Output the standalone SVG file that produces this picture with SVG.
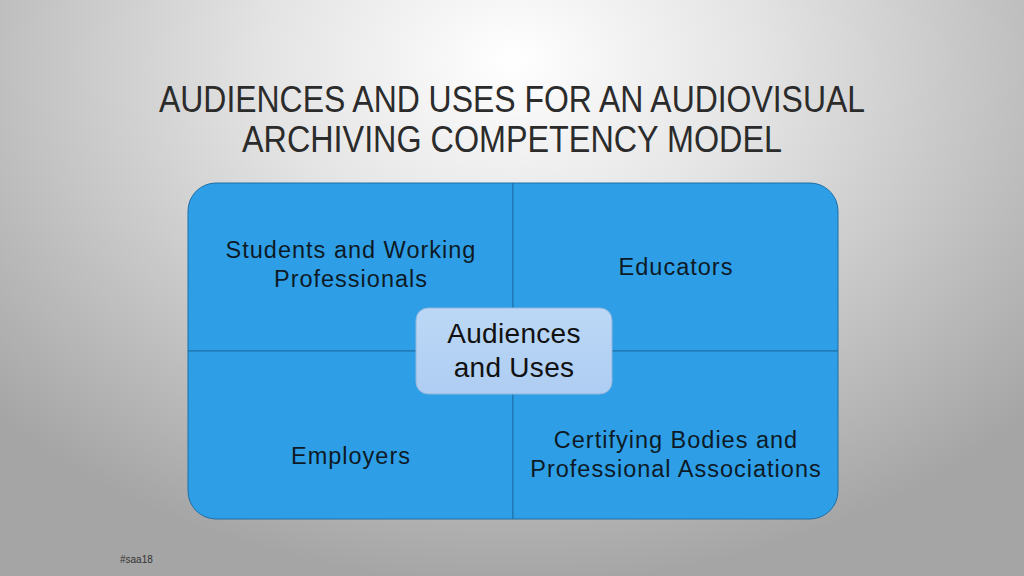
<svg xmlns="http://www.w3.org/2000/svg" width="1024" height="576" viewBox="0 0 1024 576">
<defs>
<radialGradient id="bg" cx="512" cy="60" r="700" gradientUnits="userSpaceOnUse" gradientTransform="translate(512 60) scale(1 0.75) translate(-512 -60)">
<stop offset="0" stop-color="#ffffff"/>
<stop offset="0.35" stop-color="#e4e4e4"/>
<stop offset="1" stop-color="#a5a5a5"/>
</radialGradient>
<linearGradient id="center" x1="0" y1="0" x2="0" y2="1">
<stop offset="0" stop-color="#bcd8f6"/>
<stop offset="1" stop-color="#aecdf2"/>
</linearGradient>
</defs>
<style>
.q{fill:#2e9fe6;stroke:#1d6ea6;stroke-width:1}
.lbl{font-family:"Liberation Sans",Arial,sans-serif;font-size:23.5px;letter-spacing:1px;fill:#0d1a26;text-anchor:middle}
.title{font-family:"Liberation Sans",Arial,sans-serif;font-size:36px;fill:#2b2b2b;text-anchor:middle}
.ctr{font-family:"Liberation Sans",Arial,sans-serif;font-size:28px;letter-spacing:0.3px;fill:#111111;text-anchor:middle}
</style>
<rect x="0" y="0" width="1024" height="576" fill="url(#bg)"/>
<g id="title">
<text class="title" x="512" y="112" textLength="706" lengthAdjust="spacingAndGlyphs">AUDIENCES AND USES FOR AN AUDIOVISUAL</text>
<text class="title" x="512" y="152" textLength="540" lengthAdjust="spacingAndGlyphs">ARCHIVING COMPETENCY MODEL</text>
</g>
<g id="students">
<path class="q" d="M188,211 A28,28 0 0 1 216,183 L513,183 L513,351 L188,351 Z"/>
<text class="lbl" x="351" y="258">Students and Working</text>
<text class="lbl" x="351" y="287">Professionals</text>
</g>
<g id="educators">
<path class="q" d="M513,183 L810,183 A28,28 0 0 1 838,211 L838,351 L513,351 Z"/>
<text class="lbl" x="676" y="275">Educators</text>
</g>
<g id="employers">
<path class="q" d="M188,351 L513,351 L513,519 L216,519 A28,28 0 0 1 188,491 Z"/>
<text class="lbl" x="351" y="464">Employers</text>
</g>
<g id="certifying">
<path class="q" d="M513,351 L838,351 L838,491 A28,28 0 0 1 810,519 L513,519 Z"/>
<text class="lbl" x="676" y="448">Certifying Bodies and</text>
<text class="lbl" x="676" y="477">Professional Associations</text>
</g>
<g id="connectors"></g>
<g id="center-node">
<rect x="416" y="308" width="196" height="86" rx="12" ry="12" fill="url(#center)" stroke="#8fb4dc" stroke-width="1"/>
<text class="ctr" x="514" y="343">Audiences</text>
<text class="ctr" x="514" y="377">and Uses</text>
</g>
<text x="120" y="563" font-family="Liberation Sans,Arial,sans-serif" font-size="10" fill="#333333">#saa18</text>
</svg>
